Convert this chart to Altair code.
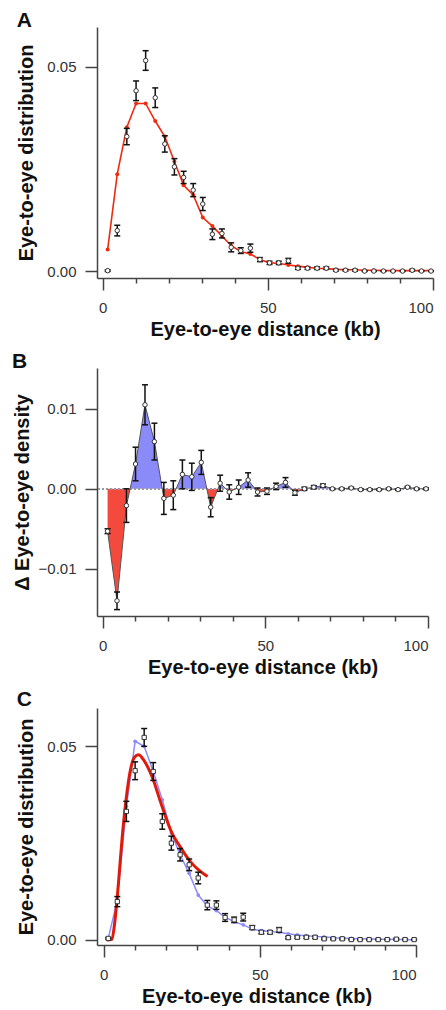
import altair as alt
import pandas as pd

# bin centres (kb)
kb = [1.5, 4.4, 7.3, 10.1, 13.0, 15.9, 18.8, 21.7, 24.5, 27.4, 30.3, 33.2, 36.1, 38.9,
      41.8, 44.7, 47.6, 50.5, 53.3, 56.2, 59.1, 62.0, 64.9, 67.7, 70.6, 73.5, 76.4,
      79.3, 82.1, 85.0, 87.9, 90.8, 93.7, 96.5, 99.4]

# Panel A
obs_A = [0.0001, 0.0099, 0.0329, 0.0441, 0.0515, 0.0424, 0.0311, 0.0255, 0.0229, 0.0198,
         0.0164, 0.0090, 0.0092, 0.0058, 0.0050, 0.0056, 0.0028, 0.0020, 0.0020, 0.0025,
         0.0007, 0.0007, 0.0007, 0.0007, 0.0002, 0.0002, 0.0002, 0.0000, 0.0000, 0.0000,
         0.0000, 0.0000, 0.0002, 0.0000, 0.0000]
err_A = [0.0002, 0.0013, 0.0020, 0.0024, 0.0024, 0.0024, 0.0020, 0.0020, 0.0015, 0.0016,
         0.0016, 0.0013, 0.0011, 0.0011, 0.0007, 0.0010, 0.0005, 0.0004, 0.0004, 0.0006,
         0.0003, 0.0003, 0.0003, 0.0003, 0.0002, 0.0002, 0.0002, 0.0001, 0.0001, 0.0001,
         0.0001, 0.0001, 0.0002, 0.0001, 0.0001]
model_A = [0.0053, 0.0237, 0.0352, 0.0410, 0.0410, 0.0367, 0.0329, 0.0268, 0.0210, 0.0186,
           0.0131, 0.0110, 0.0086, 0.0062, 0.0048, 0.0042, 0.0028, 0.0020, 0.0019, 0.0015,
           0.0012, 0.0009, 0.0007, 0.0006, 0.0004, 0.0003, 0.0003, 0.0002, 0.0002, 0.0001,
           0.0001, 0.0001, 0.0001, 0.0001, 0.0001]

# Panel B
delta_B = [-0.0053, -0.0140, -0.0021, 0.0031, 0.0105, 0.0059, -0.0012, -0.0008, 0.0018, 0.0015,
           0.0033, -0.0023, 0.0007, -0.0004, 0.0002, 0.0011, -0.0004, -0.0003, 0.0003, 0.0008,
           -0.0005, 0.0000, 0.0002, 0.0004, 0.0000, 0.0000, 0.0001, -0.0001, -0.0001, -0.0001,
           0.0000, -0.0001, 0.0002, 0.0000, 0.0000]
err_B = [0.0003, 0.0011, 0.0021, 0.0021, 0.0025, 0.0023, 0.0020, 0.0018, 0.0018, 0.0017,
         0.0015, 0.0012, 0.0010, 0.0009, 0.0009, 0.0009, 0.0005, 0.0004, 0.0004, 0.0006,
         0.0003, 0.0002, 0.0002, 0.0002, 0.0001, 0.0001, 0.0001, 0.0001, 0.0001, 0.0001,
         0.0001, 0.0001, 0.0001, 0.0001, 0.0001]

# Panel C
obs_C = [0.0004, 0.0099, 0.0332, 0.0437, 0.0523, 0.0435, 0.0306, 0.0250, 0.0220, 0.0194,
         0.0160, 0.0090, 0.0090, 0.0058, 0.0052, 0.0059, 0.0032, 0.0020, 0.0020, 0.0026,
         0.0006, 0.0007, 0.0007, 0.0007, 0.0003, 0.0003, 0.0003, 0.0001, 0.0001, 0.0001,
         0.0001, 0.0001, 0.0002, 0.0001, 0.0001]
err_C = [0.0002, 0.0013, 0.0026, 0.0023, 0.0023, 0.0023, 0.0020, 0.0018, 0.0016, 0.0015,
         0.0015, 0.0012, 0.0011, 0.0010, 0.0007, 0.0010, 0.0005, 0.0004, 0.0004, 0.0006,
         0.0003, 0.0003, 0.0003, 0.0003, 0.0002, 0.0002, 0.0002, 0.0001, 0.0001, 0.0001,
         0.0001, 0.0001, 0.0002, 0.0001, 0.0001]
model_C = [0.0004, 0.0103, 0.0345, 0.0513, 0.0500, 0.0435, 0.0362, 0.0276, 0.0220, 0.0172,
           0.0116, 0.0088, 0.0076, 0.0059, 0.0047, 0.0039, 0.0028, 0.0024, 0.0022, 0.0020,
           0.0016, 0.0013, 0.0011, 0.0009, 0.0008, 0.0006, 0.0005, 0.0004, 0.0003, 0.0003,
           0.0002, 0.0002, 0.0001, 0.0001, 0.0000]
fit_kb = [1.0, 2.7, 3.5, 4.3, 5.1, 5.9, 7.2, 8.5, 9.9, 11.2, 12.8, 15.5, 18.7, 21.9, 24.5, 27.7, 30.4, 33.3]
fit_C = [0.0000, 0.0002, 0.0040, 0.0103, 0.0180, 0.0259, 0.0362, 0.0435, 0.0472, 0.0478,
         0.0465, 0.0422, 0.0345, 0.0276, 0.0241, 0.0203, 0.0181, 0.0164]

FONT = "Liberation Sans"
RED = "#ee2a10"
BLUE = "#8c8cff"
FILL_BLUE = "#8a8af8"
FILL_RED = "#f44a3e"
DARK = "#333333"

dfA = pd.DataFrame({"kb": kb, "obs": obs_A, "err": err_A, "model": model_A})
dfB = pd.DataFrame({"kb": kb, "d": delta_B, "err": err_B})
dfC = pd.DataFrame({"kb": kb, "obs": obs_C, "err": err_C, "model": model_C})
dfF = pd.DataFrame({"kb": fit_kb, "fit": fit_C})

XTITLE = "Eye-to-eye distance (kb)"


def x_enc(dmin, field="kb"):
    return alt.X(
        f"{field}:Q",
        scale=alt.Scale(domain=[dmin, 100], nice=False, zero=False),
        axis=alt.Axis(
            values=list(range(0, 101, 10)),
            labelExpr="datum.value % 50 === 0 ? datum.label : ''",
            tickSize={"condition": {"test": "datum.value % 50 === 0", "value": 12}, "value": 5},
            title=XTITLE,
            titlePadding=4,
            labelPadding=10,
        ),
    )


def y_axis(values, title, tpad):
    return alt.Axis(values=values, format=".2f", title=title, tickSize=12,
                    labelPadding=9, titlePadding=tpad)


def errbars(df, xdom, ydom, yfield="obs"):
    base = alt.Chart(df).transform_calculate(
        lo=f"datum.{yfield} - datum.err", hi=f"datum.{yfield} + datum.err"
    )
    ysc = alt.Scale(domain=ydom, nice=False, zero=False)
    bar = base.mark_rule(color="#111111", strokeWidth=1.5).encode(
        x=x_enc(xdom), y=alt.Y("lo:Q", scale=ysc), y2="hi:Q")
    cap_lo = base.mark_rule(color="#111111", strokeWidth=1.5, xOffset=-3, x2Offset=3).encode(
        x=x_enc(xdom), x2="kb:Q", y=alt.Y("lo:Q", scale=ysc))
    cap_hi = base.mark_rule(color="#111111", strokeWidth=1.5, xOffset=-3, x2Offset=3).encode(
        x=x_enc(xdom), x2="kb:Q", y=alt.Y("hi:Q", scale=ysc))
    return bar + cap_lo + cap_hi


def ttl(letter, offset):
    return alt.TitleParams(letter, anchor="start", fontSize=21, fontWeight="bold",
                           font=FONT, color="#111111", offset=offset)


# ---------- Panel A ----------
domA = [-0.0017, 0.0597]
ysA = alt.Scale(domain=domA, nice=False, zero=False)
xA = -1.73
redA = alt.Chart(dfA).mark_line(color=RED, strokeWidth=1.6, point=alt.OverlayMarkDef(
    filled=True, color=RED, size=16)).encode(
    x=x_enc(xA), y=alt.Y("model:Q", scale=ysA, axis=y_axis([0, 0.05], "Eye-to-eye distribution", 10)))
ptsA = alt.Chart(dfA).mark_point(shape="circle", filled=True, fill="white", stroke=DARK,
                                 strokeWidth=1, size=20, opacity=1).encode(
    x=x_enc(xA), y=alt.Y("obs:Q", scale=ysA))
chartA = alt.layer(redA, errbars(dfA, xA, domA), ptsA).properties(
    width=336, height=251, title=ttl("A", -4))

# ---------- Panel B ----------
domB = [-0.0159, 0.0151]
ysB = alt.Scale(domain=domB, nice=False, zero=False)
xB = -1.75
zfrac = max(delta_B) / (max(delta_B) - min(delta_B))
grad = alt.Gradient(
    gradient="linear", x1=0, x2=0, y1=0, y2=1,
    stops=[alt.GradientStop(color=FILL_BLUE, offset=0),
           alt.GradientStop(color=FILL_BLUE, offset=zfrac),
           alt.GradientStop(color=FILL_RED, offset=zfrac),
           alt.GradientStop(color=FILL_RED, offset=1)])
areaB = alt.Chart(dfB).mark_area(color=grad, opacity=1).encode(
    x=x_enc(xB), y=alt.Y("d:Q", scale=ysB, axis=y_axis([-0.01, 0, 0.01], "\u0394 Eye-to-eye density", 6)),
    y2=alt.datum(0))
zeroB = alt.Chart(dfB).mark_rule(color="#9a9a9a", strokeDash=[2, 2], strokeWidth=1).encode(
    y=alt.datum(0, scale=ysB))
lineB = alt.Chart(dfB).mark_line(color="#555555", strokeWidth=1).encode(
    x=x_enc(xB), y=alt.Y("d:Q", scale=ysB))
ptsB = alt.Chart(dfB).mark_point(shape="circle", filled=True, fill="white", stroke=DARK,
                                 strokeWidth=1, size=20, opacity=1).encode(
    x=x_enc(xB), y=alt.Y("d:Q", scale=ysB))
chartB = alt.layer(areaB, zeroB, lineB, errbars(dfB, xB, domB, "d"), ptsB).properties(
    width=331, height=248, title=ttl("B", -4))

# ---------- Panel C ----------
domC = [-0.0013, 0.0599]
ysC = alt.Scale(domain=domC, nice=False, zero=False)
xC = -2.1
blueC = alt.Chart(dfC).mark_line(color=BLUE, strokeWidth=1.5, point=alt.OverlayMarkDef(
    filled=True, color=BLUE, size=14)).encode(
    x=x_enc(xC), y=alt.Y("model:Q", scale=ysC, axis=y_axis([0, 0.05], "Eye-to-eye distribution", 10)))
fitC = alt.Chart(dfF).mark_line(color="#e01a0a", strokeWidth=3, interpolate="monotone").encode(
    x=x_enc(xC), y=alt.Y("fit:Q", scale=ysC))
ptsC = alt.Chart(dfC).mark_point(shape="square", filled=True, fill="white", stroke=DARK,
                                 strokeWidth=1, size=18, opacity=1).encode(
    x=x_enc(xC), y=alt.Y("obs:Q", scale=ysC))
chartC = alt.layer(blueC, fitC, errbars(dfC, xC, domC), ptsC).properties(
    width=319, height=237, title=ttl("C", -2))

chart = alt.vconcat(chartA, chartB, chartC, spacing=12).properties(
    padding={"left": 4, "top": 2, "right": 0, "bottom": 0}
).configure_view(stroke=None).configure_axis(
    grid=False, domainColor="#444444", domainWidth=1.5, tickColor="#444444", tickWidth=1.5,
    labelFont=FONT, labelFontSize=15, labelColor="#333333",
    titleFont=FONT, titleFontSize=20, titleFontWeight="bold", titleColor="#111111",
).configure_title(font=FONT)

chart.save("out.html", embed_options={"renderer": "svg", "actions": False})
